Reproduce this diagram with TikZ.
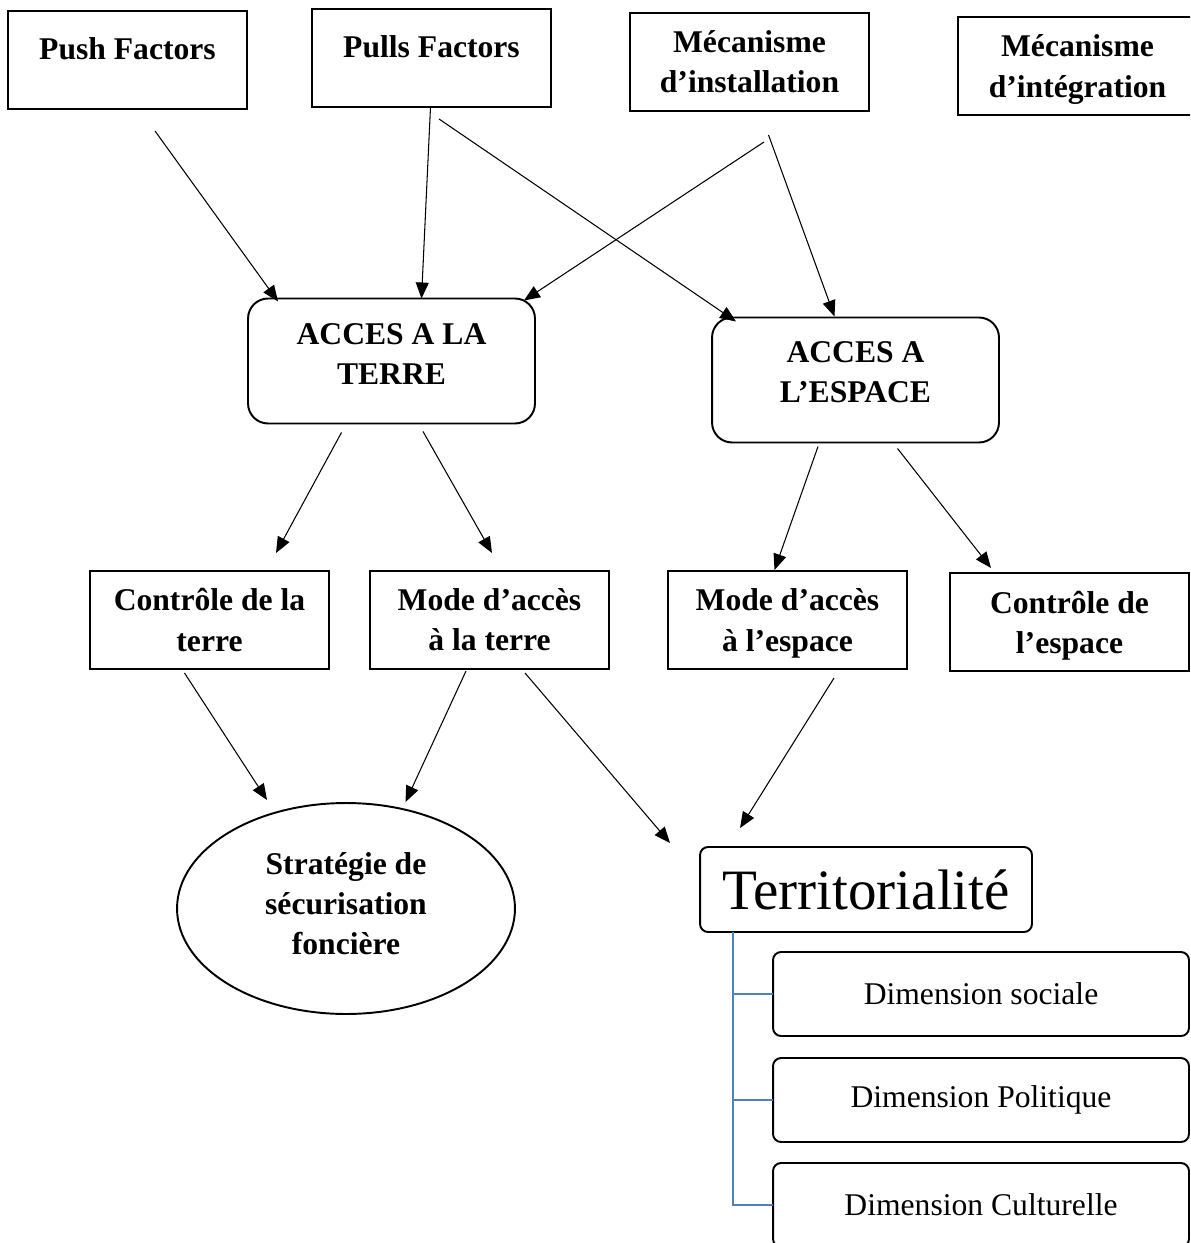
\documentclass[tikz,border=0pt]{standalone}
\usepackage{fontspec}
\setmainfont{Liberation Serif}
\usetikzlibrary{arrows.meta,calc,shapes.geometric}
\definecolor{treeblue}{RGB}{79,129,189}
\newcommand{\lowpad}[1]{\rule[-#1]{0pt}{#1}}
\begin{document}
\begin{tikzpicture}[x=0.02cm,y=-0.02cm,
    box/.style={draw,line width=1.1pt,inner sep=0pt,outer sep=0pt,align=center,
      minimum width=4.78cm,minimum height=1.96cm,
      font=\fontsize{18}{22.8}\selectfont\bfseries},
    onerow/.style={text height=0.5cm,text depth=0.5cm},
    rbox/.style={box,rounded corners=0.4cm,minimum width=5.74cm,minimum height=2.5cm},
    dimbox/.style={draw,line width=1.1pt,rounded corners=0.16cm,inner sep=0pt,outer sep=0pt,
      minimum width=8.32cm,minimum height=1.68cm,font=\fontsize{18}{22.8}\selectfont},
    arr/.style={-{Triangle[length=0.32cm,width=0.26cm]},line width=0.6pt},
    treeline/.style={treeblue,line width=1.1pt}]
  \useasboundingbox (0,0) rectangle (1190,1243);
  \clip (0,0) rectangle (1190,1243);
  % top row
  \node[box,onerow] (push) at (127.5,60) {Push Factors};
  \node[box,onerow] (pull) at (431.5,58) {Pulls Factors};
  \node[box] (inst) at (749.5,62) {Mécanisme\\d’installation};
  \node[box] (integ) at (1077.5,66) {Mécanisme\\\smash{d’intégration}};
  % acces
  \node[rbox] (terre) at (391.5,361) {ACCES A LA\\TERRE\lowpad{0.28cm}};
  \node[rbox] (espace) at (855.5,380) {ACCES A\\L’ESPACE\lowpad{0.32cm}};
  % third row
  \node[box] (ctrlT) at (209.5,620) {Contrôle de la\\terre};
  \node[box] (modeT) at (489.5,620) {Mode d’accès\\à la terre};
  \node[box] (modeE) at (787.5,620) {Mode d’accès\\\smash{à l’espace}};
  \node[box] (ctrlE) at (1069.5,622) {Contrôle de\\\smash{l’espace}};
  % bottom
  \node[box,ellipse,minimum width=6.76cm,minimum height=4.22cm] (strat) at (346,908.5)
    {Stratégie de\\sécurisation\\foncière\lowpad{0.2cm}};
  \node[draw,line width=1.1pt,rounded corners=0.16cm,inner sep=0pt,outer sep=0pt,
    minimum width=6.64cm,minimum height=1.7cm,font=\fontsize{32.5}{39}\selectfont]
    (territ) at (866,889.5) {Territorialité};
  \node[dimbox] (dim1) at (981,994) {Dimension sociale};
  \node[dimbox] (dim2) at (981,1100) {Dimension Politique};
  \node[dimbox] (dim3) at (981,1205) {Dimension Culturelle};
  \coordinate (stem) at ($(territ.south west)+(33,0)$);
  \draw[treeline] (stem) |- (dim1.west);
  \draw[treeline] (stem) |- (dim2.west);
  \draw[treeline] (stem) |- (dim3.west);
  \begin{scope}[arr]
    \draw ($(push.south)+(27.5,22)$) to ($(terre.north west)+(30,3)$);
    \draw ($(pull.south)+(-1,0)$) to ($(terre.north)+(30,0)$);
    \draw ($(pull.south)+(7.5,12)$) to ($(espace.north west)+(24,4)$);
    \draw ($(inst.south)+(14.5,31)$) to ($(terre.north east)+(-11,2)$);
    \draw ($(inst.south)+(19,24)$) to ($(espace.north)+(-21,-1)$);
    \draw ($(terre.south)+(-50,9)$) to ($(ctrlT.north)+(66.5,-18)$);
    \draw ($(terre.south)+(31.5,8)$) to ($(modeT.north)+(2.5,-18)$);
    \draw ($(espace.south)+(-37.5,4)$) to ($(modeE.north)+(-13,-1)$);
    \draw ($(espace.south)+(42,6)$) to ($(ctrlE.north)+(-78.5,-5)$);
    \draw ($(ctrlT.south)+(-25,4)$) to ($(strat.north)+(-79,-3)$);
    \draw ($(modeT.south)+(-23.5,2)$) to ($(strat.north)+(59.5,-1)$);
    \draw ($(modeT.south)+(35.5,4)$) to ($(territ.north west)+(-30,-4)$);
    \draw ($(modeE.south)+(46.5,9)$) to ($(territ.north west)+(40,-19)$);
  \end{scope}
\end{tikzpicture}
\end{document}
